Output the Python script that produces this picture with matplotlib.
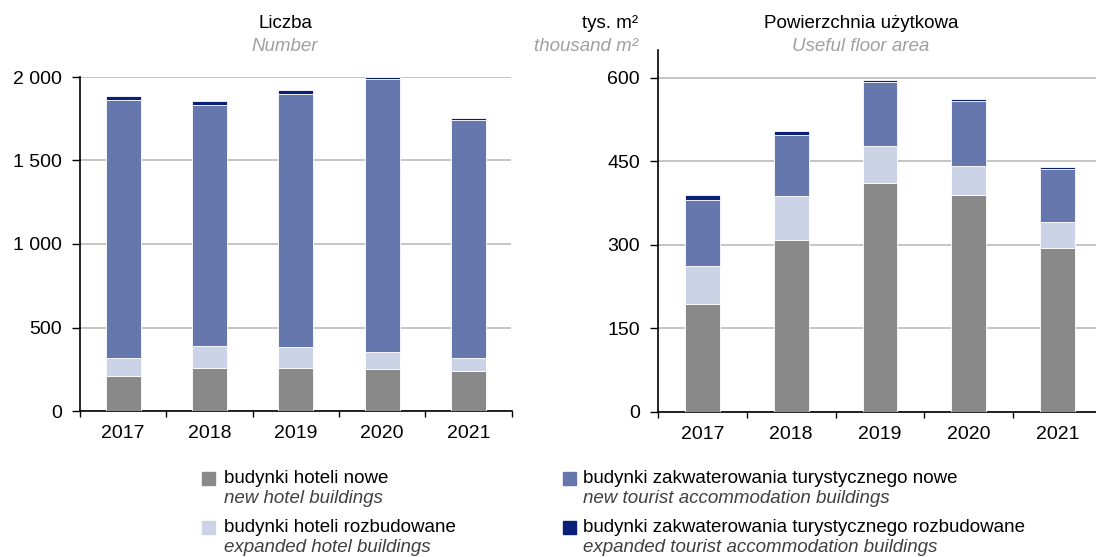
import matplotlib
matplotlib.use("Agg")
import matplotlib.pyplot as plt
import matplotlib.patches as patches
import numpy as np

plt.rcParams['font.family'] = ['Liberation Sans', 'DejaVu Sans']

years = ['2017', '2018', '2019', '2020', '2021']

# Liczba / Number
num_hotel_new = [210, 259, 259, 251, 238]
num_hotel_exp = [107, 132, 124, 104, 79]
num_tour_new = [1545, 1443, 1515, 1631, 1425]
num_tour_exp = [23, 22, 24, 14, 12]

# Powierzchnia uzytkowa / Useful floor area (thousand m2)
area_hotel_new = [194, 308, 411, 389, 295]
area_hotel_exp = [68, 79, 66, 53, 46]
area_tour_new = [118, 111, 115, 116, 96]
area_tour_exp = [9, 7, 4, 4, 3]

colors = ['#898989', '#cdd3e6', '#6677ad', '#0a1f7a']
labels_pl = ['budynki hoteli nowe', 'budynki hoteli rozbudowane',
             'budynki zakwaterowania turystycznego nowe',
             'budynki zakwaterowania turystycznego rozbudowane']
labels_en = ['new hotel buildings', 'expanded hotel buildings',
             'new tourist accommodation buildings',
             'expanded tourist accommodation buildings']

W, H = 1096, 557
fig = plt.figure(figsize=(W / 100, H / 100), dpi=100)


def px_axes(x0, y0, x1, y1):
    return fig.add_axes([x0 / W, 1 - y1 / H, (x1 - x0) / W, (y1 - y0) / H])


def draw(ax, series, ymax, ticks, ticklabels, width):
    x = np.arange(len(years))
    bottom = np.zeros(len(years))
    for vals, c in zip(series, colors):
        ax.bar(x, vals, width, bottom=bottom, color=c, edgecolor='white',
               linewidth=0.6, zorder=3)
        bottom += np.array(vals)
    ax.set_xlim(-0.5, len(years) - 0.5)
    ax.set_ylim(0, ymax)
    ax.set_yticks(ticks)
    ax.set_yticklabels(ticklabels, fontsize=14)
    ax.set_xticks(x)
    ax.set_xticklabels(years, fontsize=14)
    ax.tick_params(axis='x', length=0, pad=10)
    ax.set_xticks(np.arange(-0.5, len(years)), minor=True)
    ax.tick_params(axis='x', which='minor', length=4.5, width=1, direction='out')
    ax.tick_params(axis='y', length=6, width=1, direction='out', pad=7)
    ax.grid(axis='y', color='#c0c0c0', linewidth=1.3, zorder=0)
    for s in ['top', 'right']:
        ax.spines[s].set_visible(False)
    ax.spines['left'].set_linewidth(1.2)
    ax.spines['bottom'].set_linewidth(1.2)


ax1 = px_axes(80, 77, 511.5, 411)
draw(ax1, [num_hotel_new, num_hotel_exp, num_tour_new, num_tour_exp],
     2000, [0, 500, 1000, 1500, 2000], ['0', '500', '1 000', '1 500', '2 000'], 0.405)

ax2 = px_axes(658, 50, 1102, 412)
draw(ax2, [area_hotel_new, area_hotel_exp, area_tour_new, area_tour_exp],
     650, [0, 150, 300, 450, 600], ['0', '150', '300', '450', '600'], 0.394)

grey = '#a0a0a0'
fig.text(285 / W, 1 - 23 / H, 'Liczba', ha='center', va='center', fontsize=13.5)
fig.text(285 / W, 1 - 46.5 / H, 'Number', ha='center', va='center', fontsize=13.5,
         style='italic', color=grey)
fig.text(861 / W, 1 - 23 / H, 'Powierzchnia użytkowa', ha='center', va='center', fontsize=13.5)
fig.text(861 / W, 1 - 46.5 / H, 'Useful floor area', ha='center', va='center', fontsize=13.5,
         style='italic', color=grey)
fig.text(638 / W, 1 - 23 / H, 'tys. m²', ha='right', va='center', fontsize=13.5)
fig.text(638 / W, 1 - 46.5 / H, 'thousand m²', ha='right', va='center', fontsize=13.5,
         style='italic', color=grey)

# legend
pos = [(202, 478.5), (202, 527.5), (563, 478.5), (563, 527.5)]
for (lx, ly), c, lp, le in zip(pos, colors, labels_pl, labels_en):
    fig.patches.append(patches.Rectangle((lx / W, 1 - (ly + 6.5) / H), 13 / W, 13 / H,
                                         transform=fig.transFigure, color=c))
    tx = lx + (22 if lx < 400 else 20)
    fig.text(tx / W, 1 - ly / H, lp, ha='left', va='center', fontsize=13.5)
    fig.text(tx / W, 1 - (ly + 20) / H, le, ha='left', va='center', fontsize=13.5,
             style='italic', color='#404040')

fig.savefig('out.png', dpi=100)
